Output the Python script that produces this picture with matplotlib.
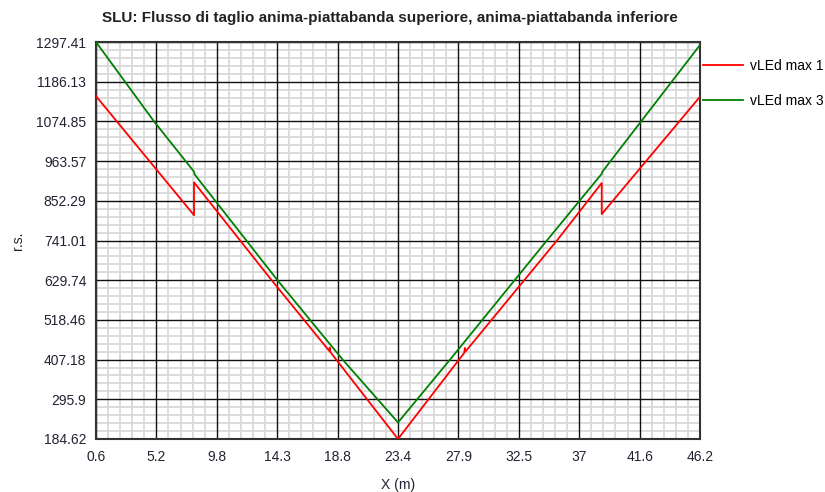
import numpy as np
import matplotlib.pyplot as plt
from matplotlib.ticker import AutoMinorLocator

plt.rcParams['font.family'] = ['Liberation Sans', 'DejaVu Sans']

# values
x_red = [0.6, 8.0, 8.0, 13.86, 18.2, 18.25, 18.3, 23.4,
         28.4, 28.45, 28.5, 35.4, 38.78, 38.78, 46.2]
y_red = [1145.7, 812, 904, 629.74, 432, 441, 428, 184.62,
         426, 440, 430, 741.01, 902, 815, 1144]

x_green = [0.6, 4.98, 8.0, 8.05, 14.3, 19.22, 23.4,
           27.33, 34.64, 38.78, 38.83, 46.2]
y_green = [1297.41, 1074.85, 934, 926, 629.74, 407.18, 231,
           407.18, 741.01, 928, 934, 1289]

x_labels = ['0.6', '5.2', '9.8', '14.3', '18.8', '23.4', '27.9', '32.5', '37', '41.6', '46.2']
y_ticks = [184.62, 295.9, 407.18, 518.46, 629.74, 741.01, 852.29, 963.57, 1074.85, 1186.13, 1297.41]

fig = plt.figure(figsize=(8.25, 4.92), dpi=100)
ax = fig.add_axes([96/825, 1-439/492, 604/825, 397/492])

ax.plot(x_red, y_red, color='#ff0000', lw=1.3, label='vLEd max 1', zorder=3)
ax.plot(x_green, y_green, color='#008000', lw=1.3, label='vLEd max 3', zorder=3)

x_ticks = np.linspace(0.6, 46.2, len(x_labels))
ax.set_xlim(0.6, 46.2)
ax.set_ylim(184.62, 1297.41)
ax.set_xticks(x_ticks)
ax.set_xticklabels(x_labels)
ax.set_yticks(y_ticks)
ax.set_yticklabels([f'{v:g}' for v in y_ticks])
ax.xaxis.set_minor_locator(AutoMinorLocator(5))
ax.yaxis.set_minor_locator(AutoMinorLocator(5))
ax.grid(which='minor', color='#d9d9d9', lw=1.3)
ax.set_axisbelow(True)
# major grid drawn on top of the minor one
for xv in x_ticks:
    ax.axvline(xv, color='#111111', lw=1.0, zorder=1)
for yv in y_ticks:
    ax.axhline(yv, color='#111111', lw=1.0, zorder=1)
ax.tick_params(which='both', length=0, labelsize=10, colors='#222233')
ax.tick_params(axis='x', pad=8)
ax.tick_params(axis='y', pad=7)
for s in ax.spines.values():
    s.set_color('#333333')
    s.set_linewidth(1.5)

fig.text(390/825, 1 - 18/492,
         'SLU: Flusso di taglio anima-piattabanda superiore, anima-piattabanda inferiore',
         fontsize=11, fontweight='bold', color='#222222', ha='center', va='center')
ax.set_xlabel('X (m)', fontsize=10, color='#222233', labelpad=10)
ax.set_ylabel('r.s.', fontsize=10, color='#222233', labelpad=8)

ax.legend(loc='upper left', bbox_to_anchor=(1.0, 0.965), frameon=False, fontsize=10,
          handlelength=2.9, labelspacing=1.5, handletextpad=0.5, borderaxespad=0.0,
          borderpad=0.2)

fig.savefig('out.png', dpi=100)
